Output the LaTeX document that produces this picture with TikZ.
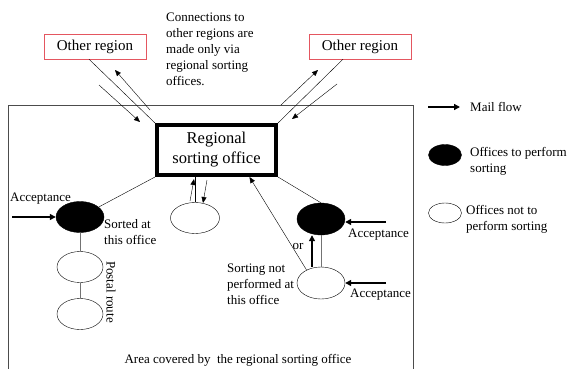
\documentclass[tikz,border=0pt]{standalone}
\usepackage{fontspec}
\setmainfont{Liberation Serif}
\usepackage{tikz}
\usetikzlibrary{positioning,arrows.meta,shapes.geometric}
\definecolor{regionred}{RGB}{228,86,96}

\begin{document}
\begin{tikzpicture}[x=1pt, y=-1pt, font=\fontsize{13}{16}\selectfont,
	region/.style={draw=regionred, minimum width=102pt, minimum height=25pt, inner sep=0pt, font=\fontsize{15}{18}\selectfont},
	hub/.style={draw, line width=4pt, minimum width=119pt, minimum height=50pt, align=center, inner sep=0pt, font=\fontsize{16.5}{20}\selectfont},
	sorter/.style={ellipse, draw, fill=black, minimum width=48pt, minimum height=31pt, inner sep=0pt},
	post/.style={ellipse, draw, fill=white, minimum width=46pt, minimum height=31pt, inner sep=0pt},
	link/.style={draw=black!55, thick},
	flow/.style={-{Triangle[length=6pt,width=5pt]}},
	bigflow/.style={line width=1.4pt, -{Triangle[length=6pt,width=6pt]}},
	note/.style={align=left, inner sep=0pt, anchor=north west}]
	\useasboundingbox (0,0) rectangle (570,369);
	\draw[black!70] (8,369) -- (8,105) -- (413,105) -- (413,369);

	\node[region] (lreg) at (95,46.5) {Other region};
	\node[region] (rreg) at (360,46.5) {Other region};
	\node[note] (conn) at (166,12.5) {Connections to\\other regions are\\made only via\\regional sorting\\offices.};
	\node[hub] (rso) at (216.5,150) {Regional\\sorting office};

	\draw ([xshift=-6pt]lreg.south) -- (rso.north west);
	\draw ([xshift=-17pt]rreg.south) -- (rso.north east);
	\coordinate (lup0) at (150,110); \coordinate (lup1) at (115,70);
	\coordinate (ldn0) at (99,85); \coordinate (ldn1) at (140,122);
	\coordinate (rup0) at (281,105); \coordinate (rup1) at (318,70);
	\coordinate (rdn0) at (337,84); \coordinate (rdn1) at (292,119);
	\draw[flow] (lup0) -- (lup1);
	\draw[flow] (ldn0) -- (ldn1);
	\draw[flow] (rup0) -- (rup1);
	\draw[flow] (rdn0) -- (rdn1);

	% left: sorting office with its postal route
	\node[sorter] (sorted) at (80,217) {};
	\node[post] (route1) at (80,267) {};
	\node[post] (route2) at (80,314) {};
	\draw (rso.south west) -- (sorted);
	\draw[link] (sorted) -- (route1);
	\draw[link] (route1) -- (route2);
	\coordinate (lacc) at (12,217);
	\draw[bigflow] (lacc) -- (sorted.west);
	\node[note] (lacctext) at (10,193) {Acceptance};
	\node[note] (sortedtext) at (104,219) {Sorted at\\this office};
	\node[rotate=-90, inner sep=0pt] (routetext) at (111,292) {Postal route};

	% middle
	\node[post, minimum width=49pt] (mid) at (195,218) {};
	\draw (mid.north) -- (mid.north |- rso.south);
	\coordinate (mup0) at (190,201); \coordinate (mup1) at (194,179);
	\coordinate (mdn0) at (207,180); \coordinate (mdn1) at (203,203);
	\draw[flow] (mup0) -- (mup1);
	\draw[flow] (mdn0) -- (mdn1);

	% right
	\node[sorter, minimum height=32pt] (rsort) at (321,219) {};
	\node[post, minimum width=48pt, minimum height=32pt] (rnone) at (321,283) {};
	\draw (rso.south east) -- (rsort.north);
	\draw[link] (rsort) -- (rnone);
	\draw[bigflow] ([xshift=-9pt]rnone.north) -- ([xshift=-9pt]rsort.south);
	\draw[flow] (rnone.138) -- ([xshift=33pt]rso.south);
	\coordinate (racc1) at (386,222);
	\coordinate (racc2) at (386,283);
	\draw[bigflow] (racc1) -- (racc1 -| rsort.east);
	\draw[bigflow] (racc2) -- (rnone.east);
	\node (ortext) at (298,246) {or};
	\node[note] (racctext1) at (348,229) {Acceptance};
	\node[note] (racctext2) at (350,289) {Acceptance};
	\node[note] (nottext) at (227,264) {Sorting not\\performed at\\this office};

	\node (area) at (238,360) {Area covered by\ \ the regional sorting office};

	% legend
	\coordinate (key0) at (428,107); \coordinate (key1) at (460,107);
	\draw[bigflow] (key0) -- (key1);
	\node[note] (keyflow) at (470,102) {Mail flow};
	\node[sorter, minimum width=33pt, minimum height=21pt] (keysort) at (445,155) {};
	\node[note] (keysorttext) at (470,147) {Offices to perform\\sorting};
	\node[post, minimum width=33pt, minimum height=20pt] (keypost) at (445,213) {};
	\node[note] (keyposttext) at (466,205) {Offices not to\\perform sorting};
\end{tikzpicture}
\end{document}
